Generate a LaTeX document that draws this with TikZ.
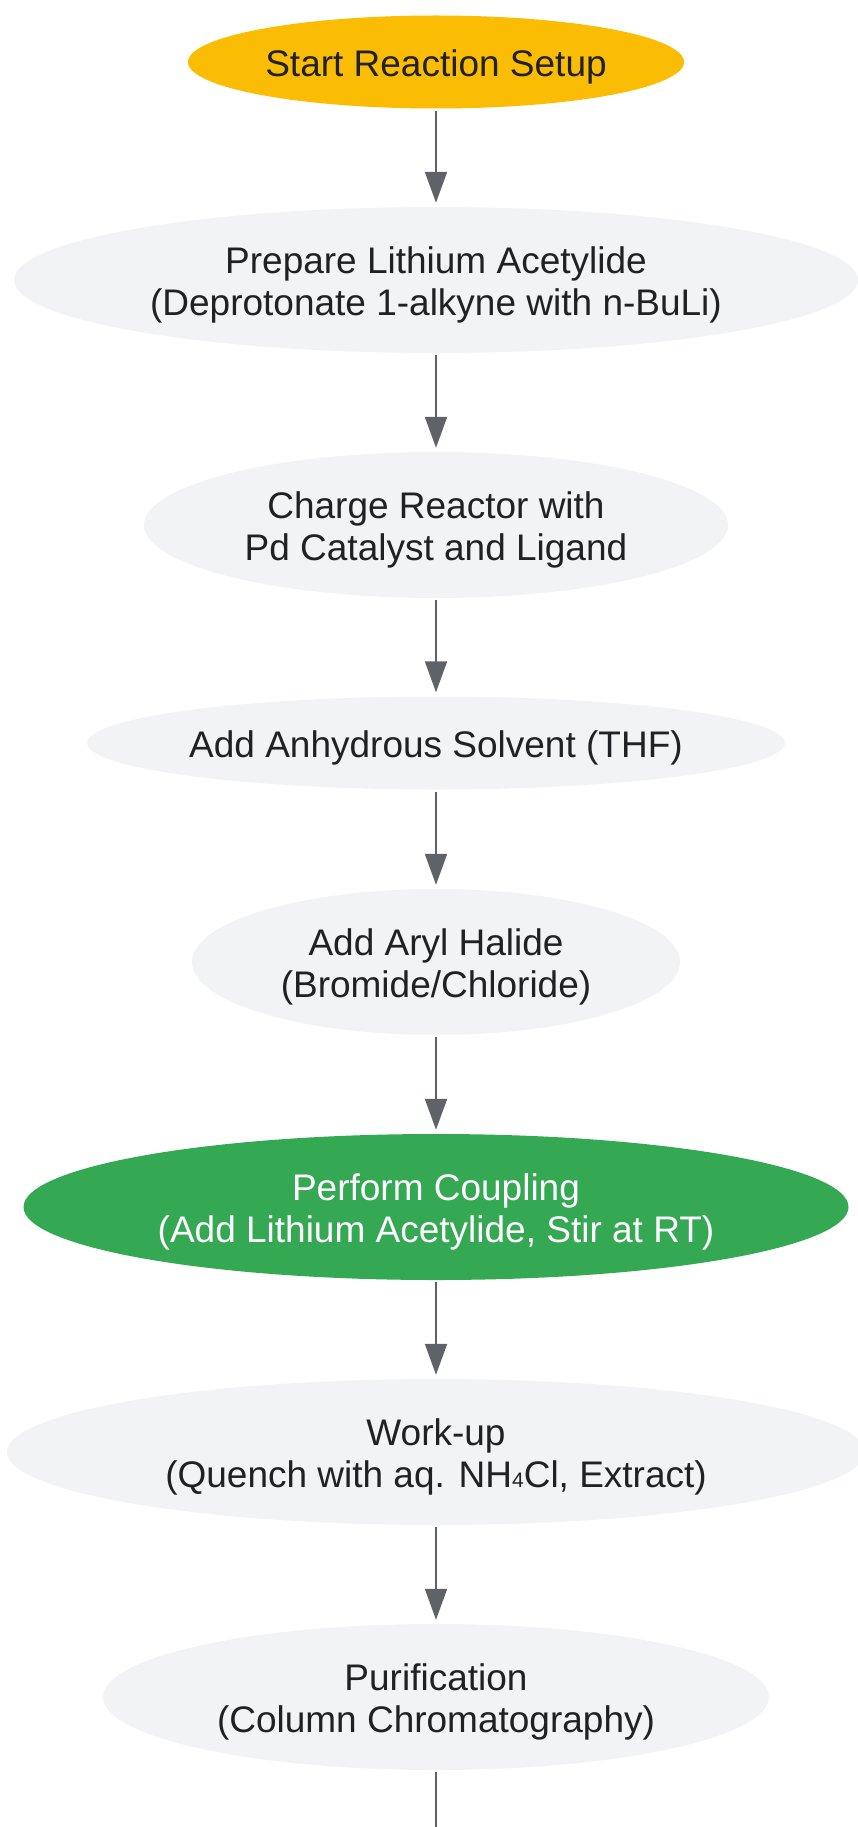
\documentclass[tikz,border=0pt]{standalone}
\usepackage{fontspec}
\setmainfont{Liberation Sans}
\usetikzlibrary{shapes.geometric,arrows.meta}
\definecolor{startyellow}{HTML}{FBBC04}
\definecolor{stagegray}{HTML}{F1F3F4}
\definecolor{couplegreen}{HTML}{34A853}
\definecolor{inkdark}{HTML}{202124}
\definecolor{linkgray}{HTML}{5F6368}
\newcommand{\upstrut}{\rule{0pt}{37pt}}
\newcommand{\subfour}{{\fontsize{21}{21}\selectfont 4}}
\begin{document}
\begin{tikzpicture}[x=1pt, y=1pt,
    stage/.style={ellipse, fill=stagegray, text=inkdark, inner sep=0pt, align=center, font=\fontsize{37}{42}\selectfont},
    link/.style={linkgray, line width=2pt, -{Triangle[length=31pt,width=22pt]}, shorten <=2pt, shorten >=4pt}]
\useasboundingbox (0,0) rectangle (857,-1827);
\node[stage, fill=startyellow, minimum width=496pt, minimum height=93pt] (S) at (436,-62) {\upstrut Start Reaction Setup};
\node[stage, minimum width=844pt, minimum height=146pt] (LA) at (436,-280) {\upstrut Prepare Lithium Acetylide\\(Deprotonate 1-alkyne with n-BuLi)};
\node[stage, minimum width=584pt, minimum height=146pt] (CR) at (436,-525) {\upstrut Charge Reactor with\\Pd Catalyst and Ligand};
\node[stage, minimum width=689pt, minimum height=93pt] (SO) at (436,-743) {\upstrut Add Anhydrous Solvent (THF)};
\node[stage, minimum width=488pt, minimum height=146pt] (AH) at (436,-962) {\upstrut Add Aryl Halide\\(Bromide/Chloride)};
\node[stage, fill=couplegreen, text=white, minimum width=825pt, minimum height=146pt] (CP) at (436,-1207) {\upstrut Perform Coupling\\(Add Lithium Acetylide, Stir at RT)};
\node[stage, minimum width=858pt, minimum height=146pt] (WU) at (436,-1452) {\upstrut Work-up\\(Quench with aq. NH\subfour Cl, Extract)};
\node[stage, minimum width=666pt, minimum height=146pt] (PU) at (436,-1697) {\upstrut Purification\\(Column Chromatography)};
\coordinate (E) at (436,-1827);

\draw[link] (S) -- (LA);
\draw[link] (LA) -- (CR);
\draw[link] (CR) -- (SO);
\draw[link] (SO) -- (AH);
\draw[link] (AH) -- (CP);
\draw[link] (CP) -- (WU);
\draw[link] (WU) -- (PU);
\draw[linkgray, line width=2pt, shorten <=2pt] (PU) -- (E);
\end{tikzpicture}
\end{document}
